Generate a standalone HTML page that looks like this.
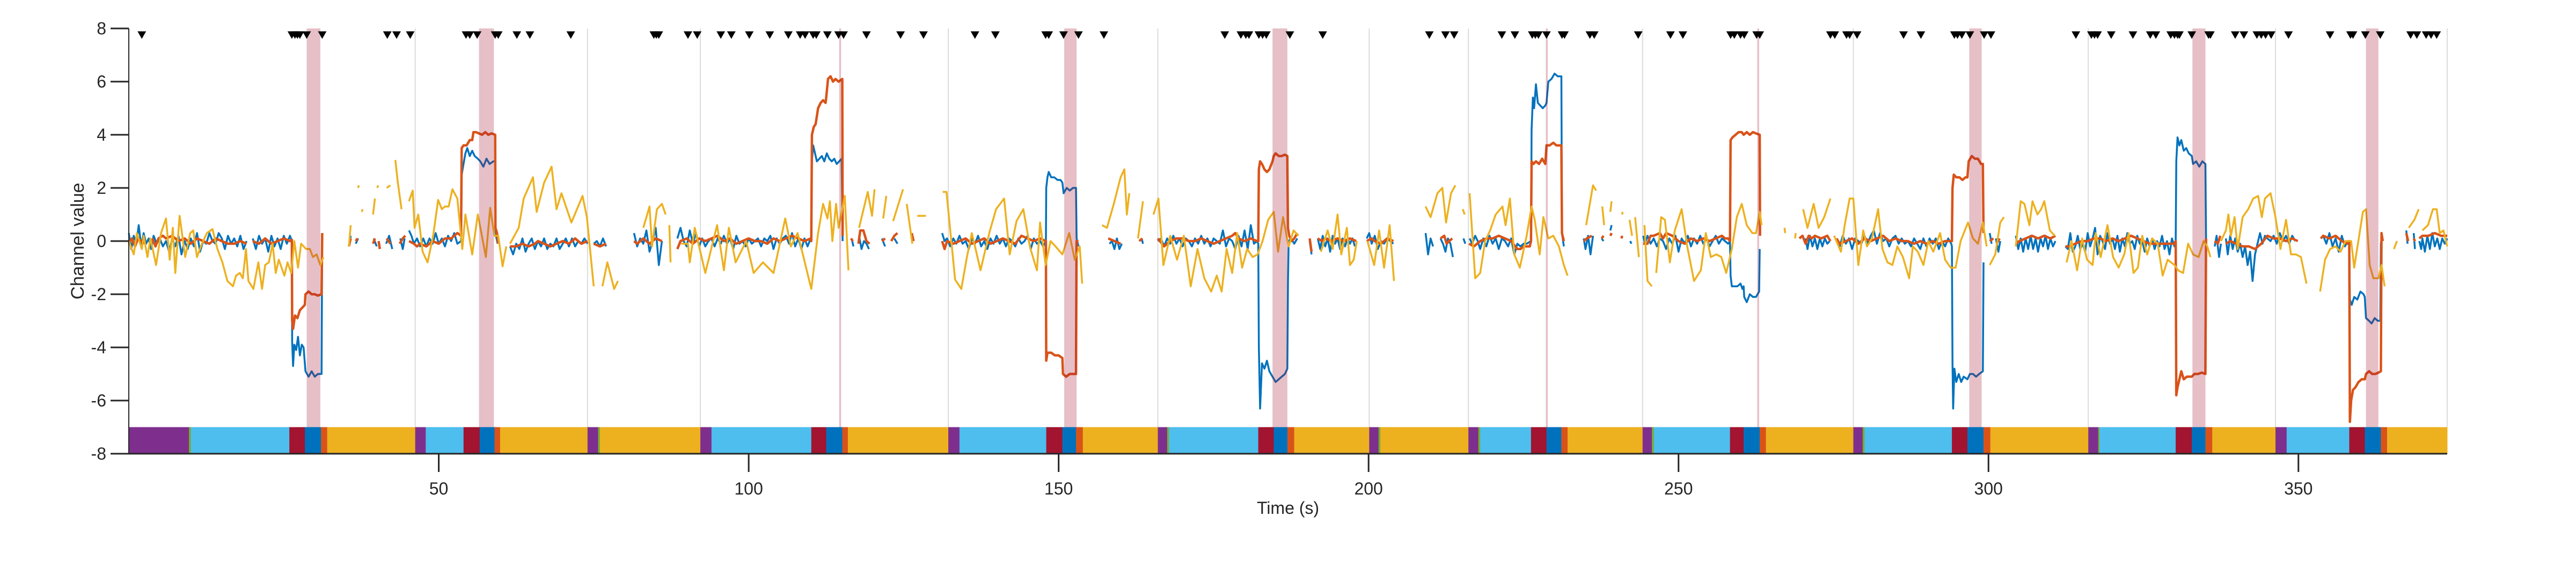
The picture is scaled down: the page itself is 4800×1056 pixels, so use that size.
<!DOCTYPE html>
<html><head><meta charset="utf-8"><style>
html,body{margin:0;padding:0;background:#fff;}
svg{display:block;font-family:"Liberation Sans",sans-serif;}
</style></head><body>
<svg id="chart" width="4800" height="1056" viewBox="0 0 4800 1056" xmlns="http://www.w3.org/2000/svg">
<g id="grid"></g>
<g id="series"></g>
<g id="shade"></g>
<g id="band"></g>
<g id="marks"></g>
<g id="axes"></g>
</svg>
<script>
// ---- data ----
const xTicks = [50,100,150,200,250,300,350];
const yTicks = [-8,-6,-4,-2,0,2,4,6,8];
// trial phase boundaries (s)
const purpleStart = [0,46.2,74,92.2,132.2,166,200.1,216.1,244.2,278.2,316.1,346.3];
const lightBlueStart = [10,47.9,null,94,134,167.8,null,218,246,280,317.9,348.1];
const redStart = [25.9,54,null,110.1,148,182.2,null,226.2,258.3,294.1,330.2,358.2];
const blueStart = [28.4,56.6,null,112.5,150.6,184.7,null,228.7,260.5,296.6,332.8,360.7];
const orangeStart = [31,59,null,115.1,152.8,186.9,null,231.1,263.1,299.2,335,363.3];
const yellowStart = [32,59.9,76,116,153.9,188,201.9,232.1,264.1,300.3,336.1,364.3];
const greenLen = [0.3,0,0.3,0,0,0.3,0.3,0.3,0.3,0.3,0.2,0];
const trialEnd = 374;
const shadeStart = [28.7,56.5,114.6,150.9,184.5,228.6,262.7,296.9,332.9,360.9];
const shadeEnd = [30.9,58.9,114.9,152.9,186.9,228.9,263.0,298.9,335,362.9];
const markerTimes = [2.1,26.3,26.8,27.2,27.6,28.7,31.2,41.7,43.2,45.4,54.4,55,56.2,59.1,59.6,62.6,64.7,71.3,84.7,85.1,85.5,90.2,91.7,95.5,97.2,100.1,103.4,106.4,108.3,109.1,110.4,110.9,112.7,114.5,115.3,119,124.5,128.2,136.5,139.8,147.9,148.4,150.8,153.2,157.3,176.8,179.4,180.2,180.7,182.3,182.9,183.5,187.3,192.6,209.8,212.4,213.8,221.5,223.6,226.4,226.9,227.4,228.7,231.2,231.6,235.7,236.4,243.5,248.7,250.7,258.4,259,260,260.6,262.6,263.1,274.5,275.2,277.1,277.6,278.8,286.3,289.1,294.5,295,295.7,297,299.3,300.4,314.1,316.6,317.1,317.6,319.8,323.3,326.1,327,329.4,330,330.5,330.8,332.8,335.5,335.8,339.8,341.2,343.3,344,344.7,345.6,348.4,355.1,358.4,358.8,360.8,363.2,368.1,369.1,370.6,371.4,372.3];

const blueData = [[0,0.3],[0.4,-0.3],[0.8,0.2],[1.2,-0.1],[1.6,0.6],[2,-0.2],[2.4,0.3],[2.8,-0.1],[3.2,0.1],[3.6,-0.3],[4,0.2],[4.5,-0.1],[5,0.1],[5.5,-0.2],[6,0],[6.5,-0.4],[7,0.1],[7.5,-0.2],[8,0.2],[8.5,-0.5],[9,0],[9.5,-0.3],[10,0.1],[10.5,-0.2],[11,0.3],[11.5,-0.4],[12,0],[12.5,-0.1],[13,0.3],[13.5,0],[14,-0.1],[14.5,0.3],[15,0.1],[15.5,-0.3],[16,0.2],[16.5,-0.1],[17,0.1],[17.5,-0.2],[18,0.2],[18.5,-0.3],[19,0],[19.5,null],[20,0.1],[20.5,-0.3],[21,0.2],[21.5,-0.1],[22,0.1],[22.5,-0.4],[23,0.2],[23.5,-0.2],[24,0.1],[24.5,-0.3],[25,0.2],[25.5,-0.1],[26,0.2],[26.3,0],[26.35,-3.8],[26.5,-4.7],[26.7,-3.9],[27,-4.1],[27.3,-3.6],[27.6,-4.3],[27.9,-3.9],[28.2,-4.0],[28.5,-4.9],[29,-5.1],[29.5,-4.9],[30,-5.1],[30.5,-5.0],[31.1,-5.0],[31.2,0.3],[31.3,null],
[35.6,-0.1],[35.8,0.2],[36,null],[36.6,-0.1],[37,0.1],[37.2,null],[39.5,0.1],[40,-0.2],[40.2,null],[41.5,-0.1],[42,0.2],[42.5,-0.3],[42.8,null],[43.8,0.1],[44.2,-0.3],[44.5,0.1],[44.8,null],[45.2,0.4],[45.6,0.2],[46,-0.1],[46.5,0.1],[47,-0.2],[47.5,0.1],[48,-0.2],[48.5,0.1],[49,-0.1],[49.5,0.3],[50,-0.1],[50.5,0.1],[51,-0.2],[51.5,0.2],[52,0],[52.5,0.3],[53,-0.1],[53.6,0],[53.7,2.5],[54,2.9],[54.3,3.3],[54.6,3.5],[55,3.2],[55.4,3.4],[55.8,3.2],[56.3,3.1],[56.7,3.0],[57.2,2.8],[57.7,3.1],[58.2,2.9],[58.8,3.0],[59.1,3.0],[59.15,0.3],[59.5,-0.1],[59.9,null],
[61.5,-0.2],[62,-0.5],[62.5,-0.1],[63,-0.3],[63.5,0.1],[64,-0.4],[64.5,-0.1],[65,0.1],[65.5,-0.3],[66,0],[66.5,-0.2],[67,0.1],[67.5,-0.3],[68,-0.1],[68.5,-0.2],[69,0.1],[69.5,-0.3],[70,-0.1],[70.5,0.1],[71,-0.2],[71.5,0.1],[72,-0.2],[72.5,0],[73,-0.1],[73.5,0.1],[74,-0.1],[74.3,null],[75,-0.1],[75.5,0],[76,-0.2],[76.5,0.1],[77,-0.2],[77.3,null],[79.5,0.1],[79.6,null],[81.5,0.3],[82,-0.2],[82.5,0.1],[83,-0.1],[83.5,0.4],[84,-0.4],[84.5,0],[85,0.5],[85.5,-0.9],[86,0],[86.4,null],[88.5,0.1],[89,0.5],[89.5,0],[90,-0.2],[90.5,0.4],[91,-0.1],[91.5,0.3],[92,-0.2],[92.5,0.1],[93,-0.2],[93.5,0],[94,0.1],[94.5,-0.2],[95,0.1],[95.5,-0.1],[96,0.2],[96.5,-0.1],[97,0.1],[97.5,-0.3],[98,0.2],[98.5,-0.1],[99,0],[99.5,-0.2],[100,0.1],[100.5,-0.1],[101,0],[101.5,0.1],[102,-0.2],[102.5,0.1],[103,0],[103.5,0.2],[104,-0.3],[104.5,0.1],[105,-0.1],[105.5,0.1],[106,0.2],[106.5,-0.1],[107,0.3],[107.5,-0.2],[108,0.1],[108.5,-0.3],[109,0.1],[109.5,-0.2],[110,0.1],[110.1,0.1],[110.2,3.0],[110.4,3.6],[110.7,3.3],[111,3.0],[111.4,3.1],[111.8,3.2],[112.2,3.0],[112.6,3.3],[113,3.1],[113.4,3.0],[113.8,3.1],[114.2,2.9],[114.6,3.0],[115,3.1],[115.15,0],[115.3,null],
[116.6,0.1],[116.9,-0.2],[117.1,null],[117.8,0.2],[118.2,-0.3],[118.6,0],[119,-0.1],[119.4,-0.3],[119.6,null],[121.5,0.1],[122,-0.2],[122.3,null],[123.5,0.1],[124,-0.1],[124.2,null],[125.4,0],[125.6,null],[126.5,0.2],[126.8,null],[131.2,0.3],[131.6,0],[132,0.1],[132.5,-0.2],[133,0.1],[133.5,-0.1],[134,0.2],[134.5,-0.1],[135,0],[135.5,-0.3],[136,0.1],[136.5,-0.1],[137,0.2],[137.5,-0.2],[138,0],[138.5,-0.3],[139,0.1],[139.5,-0.1],[140,0.2],[140.5,-0.1],[141,0.1],[141.5,-0.2],[142,0.1],[142.5,0],[143,-0.2],[143.5,0.1],[144,-0.1],[144.5,0],[145,0.2],[145.5,-0.3],[146,0.1],[146.5,-0.1],[147,0],[147.5,-0.2],[147.95,0],[148,2.0],[148.2,2.4],[148.4,2.6],[148.8,2.4],[149.3,2.4],[149.8,2.3],[150.3,2.3],[150.6,2.2],[150.8,1.8],[151.3,2.0],[151.8,1.9],[152.3,2.0],[152.8,2.0],[152.9,0.1],[153.2,-0.2],[153.4,null],
[157.2,0.1],[157.4,null],[158.2,-0.1],[158.6,0],[159,-0.3],[159.4,0.1],[159.8,-0.3],[160.2,-0.1],[160.5,null],[163.4,0.1],[163.6,-0.1],[163.8,null],[166,0],[166.5,0.1],[167,-0.2],[167.5,0.1],[168,-0.1],[168.5,0.2],[169,-0.1],[169.5,0.1],[170,-0.2],[170.5,0.1],[171,0],[171.5,-0.2],[172,0.1],[172.5,-0.1],[173,0.2],[173.5,-0.1],[174,0.1],[174.5,-0.2],[175,0.1],[175.5,0],[176,-0.1],[176.5,0.4],[177,-0.2],[177.5,0.1],[178,0],[178.5,-0.3],[179,0.2],[179.5,-0.2],[180,0.4],[180.5,-0.3],[181,0.6],[181.5,-0.1],[182,0],[182.2,-0.1],[182.3,-4.0],[182.5,-6.3],[182.8,-4.6],[183.2,-4.8],[183.6,-4.5],[184,-4.9],[184.5,-5.1],[185,-5.3],[185.5,-5.2],[186,-5.1],[186.5,-5.0],[186.9,-4.8],[187,-1.5],[187.1,0],[187.5,0.1],[188,-0.1],[188.5,0.1],[188.9,null],
[190.5,0],[190.8,-0.5],[191,null],[191.8,0.1],[192.2,-0.3],[192.6,0.2],[193,-0.2],[193.4,0.1],[193.8,-0.4],[194.2,0.2],[194.6,-0.1],[195,0.1],[195.4,-0.3],[195.8,0.1],[196.2,-0.2],[196.6,0.1],[197,-0.1],[197.4,0.1],[197.8,-0.2],[198.1,null],[199.7,0.1],[200.1,0.3],[200.5,-0.1],[201,0.2],[201.5,-0.3],[202,0],[202.5,-0.1],[203,0.1],[203.5,0],[204,-0.1],[204.2,null],[209.2,0.3],[209.6,-0.5],[210,0.1],[210.4,-0.2],[210.8,null],[211.6,0.1],[212,-0.1],[212.4,-0.4],[212.8,0.1],[213.2,-0.1],[213.6,-0.6],[214,null],[215.3,0.1],[215.6,-0.1],[215.8,null],[216.3,0.1],[216.7,-0.1],[217.2,0.2],[217.6,0],[218,-0.3],[218.5,0.1],[219,-0.2],[219.5,0.2],[220,-0.1],[220.5,0.1],[221,-0.3],[221.5,0.1],[222,0],[222.5,-0.2],[223,0.1],[223.5,-0.5],[224,-0.1],[224.5,-0.2],[225,-0.1],[225.5,-0.1],[226.2,0],[226.3,4.2],[226.5,5.4],[226.7,5.0],[227,5.9],[227.3,5.2],[227.7,5.1],[228.1,5.0],[228.5,5.1],[228.7,5.2],[229,6.0],[229.5,6.1],[230,6.3],[230.5,6.2],[231.1,6.2],[231.2,0.3],[231.5,-0.2],[231.8,null],
[234.7,0.1],[235,-0.3],[235.4,0.2],[235.8,-0.5],[236.2,0.2],[236.5,null],[237.6,0.1],[237.9,0],[238,null],[239,0.4],[239.2,0.6],[239.4,null],[242.2,0],[242.4,-0.1],[242.5,null],[243,0.1],[243.3,null],[244.3,0.2],[244.6,-0.1],[245,0.2],[245.5,-0.1],[246,0.1],[246.5,-0.2],[247,0.1],[247.5,0],[248,-0.3],[248.5,0.1],[249,-0.1],[249.5,0.2],[250,-0.4],[250.5,0.1],[251,-0.1],[251.5,0.2],[252,-0.2],[252.5,0.1],[253,-0.1],[253.5,0.2],[254,-0.1],[254.5,0.1],[255,-0.2],[255.5,0],[256,0.2],[256.5,-0.1],[257,0.1],[257.5,0],[258,-0.1],[258.3,0],[258.4,-1.3],[258.6,-1.7],[259,-1.7],[259.5,-1.7],[260,-1.6],[260.3,-1.8],[260.5,-1.7],[260.6,-2.1],[261,-2.3],[261.5,-2.0],[262,-2.1],[262.5,-2.1],[263,-1.9],[263.1,-0.3],[263.15,null],
[267.1,0.3],[267.2,null],[269.5,-0.1],[269.7,null],[270.5,0.1],[270.8,-0.3],[271.2,0.2],[271.6,-0.2],[272,0.1],[272.4,-0.3],[272.8,0.1],[273.2,-0.2],[273.6,0.1],[274,-0.1],[274.4,0],[274.8,null],[275.5,0.1],[276,-0.2],[276.5,0.2],[277,-0.1],[277.5,0.1],[278,-0.3],[278.5,0.1],[279,0],[279.5,-0.1],[280,0.2],[280.5,-0.1],[281,0.2],[281.5,0.4],[282,-0.1],[282.5,0.3],[283,0],[283.5,0.1],[284,-0.2],[284.5,0.1],[285,0.2],[285.5,-0.1],[286,0.1],[286.5,-0.1],[287,0],[287.5,-0.2],[288,0.1],[288.5,-0.1],[289,-0.3],[289.5,0.1],[290,-0.2],[290.5,0.1],[291,-0.1],[291.5,0.1],[292,-0.3],[292.5,0],[293,-0.2],[293.5,0.1],[294,-0.1],[294.1,-0.2],[294.2,-4.6],[294.3,-6.3],[294.5,-4.8],[294.8,-5.3],[295.2,-5.0],[295.6,-5.3],[296,-5.1],[296.6,-5.2],[297,-5.0],[297.5,-5.0],[298,-5.1],[298.5,-5.0],[299.1,-4.9],[299.2,-0.8],[299.3,null],
[300.2,0.3],[300.5,-0.1],[300.9,null],[301.2,0.1],[301.6,-0.4],[301.9,0],[302.1,null],[304.4,0.2],[304.8,-0.3],[305.2,0.1],[305.6,-0.4],[306,0.1],[306.4,-0.3],[306.8,0.2],[307.2,-0.3],[307.6,0.1],[308,-0.4],[308.4,0.1],[308.8,-0.2],[309.2,0.2],[309.6,-0.3],[310,0.1],[310.4,-0.2],[310.8,0],[311,null],[312.4,-0.2],[312.8,-0.3],[313.2,0.3],[313.6,-0.4],[314,-0.2],[314.4,0.2],[314.8,-0.3],[315.2,-0.1],[315.6,-0.4],[316,0.3],[316.4,-0.2],[316.8,0.1],[317.2,0.5],[317.6,-0.5],[318,0.2],[318.4,0],[318.8,-0.3],[319.2,0.3],[319.6,-0.1],[320,0.1],[320.4,-0.3],[320.8,0.2],[321.2,-0.4],[321.6,0.1],[322,-0.2],[322.4,0.3],[322.8,-0.1],[323.2,0],[323.6,-0.3],[324,0.2],[324.4,-0.1],[324.8,0],[325.2,-0.4],[325.6,0.1],[326,-0.2],[326.4,0.1],[326.8,-0.3],[327.2,0],[327.6,-0.2],[328,0.2],[328.4,-0.3],[328.8,0],[329.2,-0.5],[329.6,0.1],[330,-0.2],[330.2,0],[330.3,3.0],[330.5,3.9],[330.8,3.6],[331.1,3.8],[331.5,3.4],[331.9,3.5],[332.3,3.3],[332.8,3.2],[333,2.9],[333.5,3.0],[334,2.8],[334.5,3.0],[335,2.9],[335.1,0],[335.2,null],
[336.5,-0.2],[336.8,0.2],[337.2,-0.6],[337.5,-0.1],[337.9,null],[338.3,0.1],[338.6,-0.5],[339,0.2],[339.4,-0.3],[339.8,0.1],[340.2,-0.4],[340.6,-0.1],[341,-0.6],[341.4,-0.2],[341.8,-0.9],[342.2,-0.4],[342.6,-1.5],[343,-0.5],[343.4,-0.1],[343.8,0.3],[344.2,-0.1],[344.6,0.2],[345,0.1],[345.5,0],[346,0.2],[346.5,-0.1],[347,0.3],[347.5,0],[348,0.2],[348.5,-0.1],[349,0.2],[349.5,0],[349.9,null],[353.6,0.1],[354,0.2],[354.5,-0.1],[355,0.3],[355.5,-0.2],[356,0.1],[356.5,-0.4],[357,0.2],[357.5,-0.2],[358,0],[358.2,-0.1],[358.3,-2.2],[358.6,-2.4],[359,-2.1],[359.5,-2.2],[360,-1.9],[360.5,-2.0],[360.7,-2.1],[360.9,-2.9],[361.4,-3.0],[361.8,-3.1],[362.3,-2.9],[362.8,-3.0],[363.2,-3.0],[363.3,-0.1],[363.5,0.2],[363.7,null],[364.6,0.3],[364.8,null],[367.4,0.4],[367.6,-0.1],[367.8,null],[368.6,0.3],[368.8,-0.3],[369,null],[369.5,0],[369.8,-0.3],[370,0.1],[370.4,-0.4],[370.8,0.2],[371.2,-0.3],[371.6,0.3],[372,-0.2],[372.4,0.1],[372.8,-0.3],[373.2,0.1],[373.6,-0.1],[374,0.1]];

const redData = [[0,-0.1],[0.5,0.1],[1,-0.2],[1.5,0.1],[2,0],[2.5,-0.1],[3,null],[3.8,0.1],[4.3,-0.2],[4.8,0.1],[5.5,0.2],[6,0.1],[7,0.2],[8,0],[9,0.1],[10,-0.1],[11,0.1],[12,0],[13,-0.1],[14,0.1],[15,0],[16,-0.1],[17,-0.1],[18,0],[19,-0.1],[19.5,null],[20,0],[21,-0.1],[22,0.1],[23,-0.1],[24,0],[25,0.1],[26,0],[26.3,0.05],[26.35,-3.0],[26.5,-3.3],[26.8,-2.8],[27.2,-2.9],[27.6,-2.6],[28,-2.5],[28.4,-2.4],[28.5,-2.0],[29,-1.9],[29.5,-2.0],[30,-2.0],[30.5,-2.05],[31.1,-2.0],[31.2,0.3],[31.3,null],
[35.5,-0.2],[35.8,0.1],[36,null],[36.6,0],[36.9,0.1],[37,null],[39.4,-0.1],[39.7,0.1],[39.9,null],[40.3,0],[40.5,-0.3],[40.7,null],[41.6,0.1],[42.2,-0.1],[42.5,null],[43.7,-0.1],[44.2,0.1],[44.6,0.2],[44.8,null],[45.2,0],[46,-0.1],[46.5,-0.2],[47,-0.1],[48,-0.2],[49,0],[50,-0.1],[51,0.1],[52,0.1],[53,0.3],[53.6,0.2],[53.7,3.5],[54,3.6],[54.5,3.6],[55,3.8],[55.4,3.8],[55.6,4.1],[56,4.1],[56.5,4.05],[57,4.0],[57.5,4.1],[58,4.0],[58.5,4.05],[59.1,4.0],[59.15,0.5],[59.4,0.3],[59.6,-0.1],[59.9,null],
[61.5,-0.2],[62.5,-0.2],[63.5,-0.1],[64.5,-0.2],[65.5,-0.1],[66,0.0],[67,-0.1],[68,-0.2],[69,-0.1],[70,0],[71,-0.1],[72,0.1],[73,-0.1],[74,0],[74.3,null],[75,-0.1],[76,-0.2],[77,-0.1],[77.3,null],[79.5,-0.2],[79.7,null],[81.5,0],[82,-0.1],[83,0.1],[84,-0.1],[85,0.1],[86,0],[86.4,null],[88.5,-0.3],[89,0],[90,0.1],[91,-0.1],[92,0.1],[93,0],[94,0.1],[95,0.2],[96,0],[97,0.1],[98,-0.1],[99,0],[100,0.1],[101,0],[102,0],[103,-0.1],[104,0.1],[105,0],[106,0.1],[107,0.2],[108,0.1],[109,0],[110,0.1],[110.1,0],[110.2,4.0],[110.5,4.3],[110.8,4.4],[111.2,5.0],[111.6,5.2],[112,5.3],[112.4,5.2],[112.5,5.4],[112.8,6.1],[113.2,6.2],[113.6,6.0],[114,6.1],[114.5,6.0],[115.1,6.1],[115.15,0.2],[115.3,null],
[116.5,0.1],[116.8,0],[117,null],[117.7,-0.1],[118,0.4],[118.5,0.4],[119,0],[119.5,-0.1],[119.7,null],[121.5,0],[122,0.1],[122.3,null],[123,0],[123.5,0.2],[124,0.3],[124.3,null],[125.4,0.2],[125.6,null],[126.3,0.3],[126.6,0],[126.9,null],[131.2,0],[131.6,-0.3],[132,0],[133,-0.1],[134,0],[135,0.1],[136,-0.1],[137,0],[138,0.1],[139,-0.1],[140,0],[141,0.1],[142,0],[143,-0.1],[144,0.2],[145,0.1],[146,0],[147,0.1],[147.95,0],[148,-4.5],[148.2,-4.2],[148.8,-4.2],[149.4,-4.3],[150,-4.3],[150.6,-4.4],[150.7,-5.0],[151.2,-5.1],[151.8,-5.0],[152.3,-5.0],[152.8,-5.0],[152.9,0],[153.2,0],[153.4,null],
[156.3,-0.2],[156.5,null],[157,0],[157.3,null],[158,0.1],[159,0],[160,-0.1],[160.5,null],[163,0],[163.5,0.1],[163.8,null],[166,0.1],[167,-0.2],[168,0],[169,0.1],[170,0.1],[171,0],[172,0],[173,0.1],[174,0],[175,-0.1],[176,0],[177,0.1],[178,0.2],[178.5,0.3],[179,0.1],[180,0],[181,0.1],[182,0],[182.2,0],[182.3,2.7],[182.5,3.0],[182.8,2.9],[183.2,2.7],[183.6,2.6],[184,2.7],[184.5,3.0],[184.7,3.2],[185,3.3],[185.5,3.2],[186,3.2],[186.5,3.25],[186.9,3.2],[187,0.5],[187.2,0.2],[187.6,0],[188,0.1],[188.5,0.3],[188.9,null],
[190.5,0.1],[190.8,-0.4],[191,null],[191.8,0.1],[192.5,0],[193,0.1],[194,0],[195,0.1],[196,0],[197,0.1],[198,0],[198.1,null],[199.7,0],[200.5,0.1],[201,0],[202,-0.1],[203,0.1],[204,0],[204.2,null],[209.8,-0.3],[210,null],[211.6,0.1],[212.2,0.2],[212.6,-0.1],[213,0],[213.5,0.1],[214,null],[215.4,0.3],[215.7,null],[216.2,-0.1],[217,-0.2],[218,0],[219,0.1],[220,0.1],[221,0.2],[222,0.1],[223,0],[224,-0.3],[224.5,-0.3],[225,-0.2],[226,-0.2],[226.2,0],[226.3,3.0],[226.6,2.9],[227,3.0],[227.5,2.9],[228,3.1],[228.5,2.9],[228.7,3.6],[229.2,3.6],[229.8,3.7],[230.3,3.6],[231.1,3.6],[231.2,0.3],[231.5,0],[231.8,null],
[234.7,0],[235.2,0.1],[236,0.2],[236.5,null],[237.6,0.1],[237.9,0.2],[238,null],[239,0.2],[239.2,0.3],[239.4,null],[240.8,0.1],[240.9,0.2],[241,null],[242.2,-0.2],[242.5,null],[243,0.1],[243.3,null],[244.3,-0.1],[245,-0.1],[245.5,0.2],[246,0.2],[247,0.3],[247.5,0.1],[248,0.3],[249,0.2],[250,0],[251,-0.1],[252,0.1],[253,0],[254,0.1],[255,0],[256,0.1],[257,0.2],[257.5,0.1],[258,0.1],[258.3,0],[258.4,3.8],[258.7,3.9],[259.2,4.0],[259.7,4.1],[260.2,4.1],[260.5,4.0],[261,4.1],[261.5,4.0],[262,4.1],[262.5,4.05],[263.1,4.0],[263.15,0.2],[263.2,null],
[267.1,-0.2],[267.2,null],[268.7,0.2],[268.9,null],[269.5,0.1],[270,0.2],[270.5,-0.1],[271,0.2],[271.5,0.1],[272,0.2],[273,0.1],[274,0.2],[274.5,0],[274.8,null],[275.5,0.1],[276,-0.1],[277,0],[278,0.1],[279,-0.1],[280,0.1],[281,0],[282,0.1],[283,0.2],[284,0],[285,0.1],[286,0],[287,0],[288,-0.1],[289,0],[290,-0.1],[291,0],[292,-0.1],[293,0],[294,0],[294.1,0],[294.2,2.0],[294.4,2.5],[294.8,2.4],[295.3,2.4],[295.8,2.3],[296.3,2.4],[296.6,2.4],[296.8,3.0],[297.3,3.2],[297.8,3.1],[298.3,3.1],[298.8,2.9],[299.1,2.9],[299.2,0.3],[299.3,null],
[300.2,0],[300.8,0.1],[300.9,null],[301.3,-0.1],[301.8,0.1],[302.1,null],[304.4,-0.1],[305,0],[306,0.1],[307,0.2],[308,0.1],[309,0.2],[310,0.1],[310.8,0.2],[311,null],[312.4,-0.2],[313,-0.2],[314,-0.1],[315,0],[316,0],[317,0.1],[318,0.1],[319,0],[320,0.1],[321,0],[322,0.1],[323,0.2],[324,0.1],[325,0],[326,-0.1],[327,-0.1],[328,-0.1],[329,-0.1],[330,-0.1],[330.2,0],[330.3,-5.8],[330.5,-5.5],[330.8,-5.2],[331.1,-4.9],[331.5,-5.2],[332,-5.1],[332.8,-5.1],[333.2,-5.0],[333.8,-5.0],[334.4,-4.95],[335,-5.0],[335.1,0.1],[335.2,null],
[336.5,0],[337,-0.1],[337.4,0.2],[337.9,null],[338.3,-0.1],[339,0],[340,-0.1],[341,-0.2],[342,-0.2],[343,-0.3],[344,-0.1],[345,0.2],[346,0.1],[347,0.1],[348,0],[349,0.1],[349.9,0],[350,null],[353.6,0.1],[354,0.2],[355,0.1],[356,0.2],[357,0],[358,-0.1],[358.2,0],[358.3,-6.8],[358.5,-6.0],[358.8,-5.6],[359.2,-5.5],[359.7,-5.3],[360.2,-5.2],[360.7,-5.2],[360.9,-5.0],[361.4,-4.9],[361.9,-5.0],[362.4,-5.0],[362.9,-4.95],[363.3,-4.9],[363.4,0.3],[363.6,0],[363.7,null],[364.6,0.2],[364.8,null],[366.7,0],[366.9,null],[367.4,0.3],[367.7,0],[367.9,null],[368.6,0.1],[368.8,0],[369,null],[369.5,0.1],[370,0.2],[371,0.2],[372,0.3],[373,0.2],[374,0.2]];

const yellowData = [[0,0],[0.8,-0.5],[1.3,0.3],[2.1,-0.3],[2.4,0.2],[3,-0.6],[3.5,0.1],[4.4,-0.9],[5.2,0.3],[6,0.85],[6.6,-0.7],[7.1,0.5],[7.5,-1.2],[8.2,0.95],[9.1,-0.6],[9.9,0.3],[10.4,0.4],[11,-0.6],[11.8,-0.1],[12.6,0.3],[13.5,0.45],[14.3,-0.3],[15.1,-0.8],[15.9,-1.5],[16.8,-1.7],[17.3,-1.3],[17.9,-1.2],[18.4,-1.4],[18.9,-0.3],[19.3,-1.5],[20.1,-1.8],[20.9,-0.8],[21.5,-1.8],[22,-0.9],[22.6,-0.8],[23.2,-0.1],[23.7,-1.2],[24.2,-0.7],[25.1,-1.3],[25.6,-0.8],[26.2,-1.2],[26.7,0],[27.3,-1],[27.8,-0.1],[28.6,-0.3],[29.2,-0.3],[29.7,-0.6],[30.3,-0.5],[30.9,-0.9],[31.4,-0.6],[31.5,null],
[35.5,-0.2],[35.8,0.6],[35.9,null],[37,2.0],[37.1,2.1],[37.2,null],[37.6,1.1],[37.7,1.2],[37.8,null],[39.4,1.0],[39.7,1.6],[39.8,null],[40.1,2.0],[40.2,2.1],[40.3,null],[41.6,2.0],[42.2,2.1],[42.3,null],[43,3.05],[43.4,2.2],[44,1.2],[44.1,null],[45.2,1.5],[45.8,1.9],[46.1,0.5],[46.7,1.0],[47.4,-0.4],[48.2,-0.8],[49.1,0.2],[49.9,1.55],[50.5,1.2],[51,1.3],[51.6,1.3],[52.2,1.95],[53,1.6],[53.8,-0.3],[54.3,1.0],[55.4,-0.5],[56.3,1.0],[56.8,0.4],[57.6,-0.6],[58.3,1.25],[59,0.2],[59.6,0.2],[60.3,-0.95],[60.9,-0.2],[61,null],
[61.5,-0.1],[62.9,0.5],[63.7,1.6],[65.2,2.4],[65.8,1.1],[67,2.2],[68.2,2.8],[69,1.2],[69.8,1.8],[71.4,0.7],[73.2,1.7],[73.9,0.9],[75,-1.7],[75.1,null],[76.4,-1.7],[77.2,-0.8],[78.3,-1.8],[78.9,-1.5],[79,null],[83,0.5],[84,1.3],[84.4,-0.2],[85.2,1.2],[86,1.4],[86.6,1.0],[86.7,null],[87.2,0.6],[87.4,-0.8],[87.5,null],[89.1,-0.1],[90.2,-0.1],[90.5,-0.8],[91.3,0.5],[93,-1.2],[94.9,0.6],[96,-1.1],[96.8,0.5],[97.9,-0.8],[99.6,0],[100.8,-1.2],[102.3,-0.8],[104,-1.2],[105.9,0.85],[106.8,-0.2],[107.9,0.3],[110.1,-1.8],[111.2,0.3],[112,1.4],[112.7,0.85],[113.1,1.5],[113.5,0],[114.1,1.4],[114.5,0.5],[115.5,1.7],[116.1,-1.1],[116.2,null],
[117.8,0.5],[119.2,1.85],[119.9,0.95],[120.3,1.95],[120.4,null],[121.7,0.85],[122.2,1.7],[122.3,null],[123.3,0.75],[124.9,1.95],[125,null],[125.5,1.4],[126.4,-0.1],[126.5,null],[127.2,0.95],[128.6,0.95],[128.7,null],[131.3,1.85],[131.9,1.85],[133.3,-1.45],[134.3,-1.8],[135.2,-0.6],[136,0.3],[137.4,-1.1],[138.8,0.3],[139.9,1.2],[141.2,1.6],[142.1,-0.5],[143.2,0.75],[144.3,1.2],[145.4,-0.25],[146.5,-1.1],[147,0.7],[147.9,-0.9],[148.7,0],[149.5,-0.2],[150.6,-0.5],[151.7,0.3],[152.6,-0.7],[153.4,-0.2],[153.8,-1.6],[153.9,null],
[157,0.6],[157.8,0.5],[158.9,1.4],[160,2.4],[160.6,2.7],[161,1.0],[161.4,1.8],[161.5,null],[162.8,0.1],[163.6,1.5],[163.7,null],[164.1,1.6],[164.2,null],[165.3,1.0],[166.1,1.6],[166.9,-0.9],[168,0.2],[169.1,-0.7],[170.2,0.2],[171.3,-1.7],[172.4,-0.3],[173.5,-1.4],[174.6,-1.9],[175.5,-1.3],[176.3,-1.9],[177.1,-0.3],[178,-1.2],[178.8,0.3],[179.6,-1.0],[180.4,-0.3],[181.3,-0.6],[182.1,-0.5],[182.9,0],[183.8,0.8],[184.7,1.1],[185.4,-0.4],[186.2,0.9],[187.1,-0.2],[187.9,0.4],[188.7,0.2],[188.8,null],[190.9,-0.6],[191,null],[192.3,-0.4],[193.4,0.4],[194.2,-0.3],[195,1.0],[195.6,-0.5],[196.5,0.5],[197,-0.9],[197.6,-0.7],[198.1,0],[198.2,null],
[199.8,0],[200.9,-0.9],[201.7,0.4],[202.5,-1.0],[203.4,0.6],[204.1,-1.5],[204.2,null],[209.2,1.3],[210,0.9],[211.1,1.8],[211.9,2.0],[212.5,0.7],[213.3,1.8],[214,2.1],[214.1,null],[215.2,1.2],[215.5,1.0],[215.6,null],[216.3,1.8],[217.2,-1.4],[218,-1.2],[218.8,0],[219.6,0.4],[220.5,1.0],[221.6,1.3],[222.1,0.6],[222.8,1.6],[223.5,-0.5],[224.4,-1.0],[225.5,0.2],[226.3,1.3],[226.8,0.8],[227.6,-0.5],[228.2,0.9],[229,0.1],[229.8,0.2],[230.7,-0.2],[231.5,-0.9],[232.1,-1.3],[232.2,null],
[235.1,0.6],[236.2,2.1],[236.7,1.9],[236.8,null],[237.7,1.3],[238,0.6],[238.1,null],[239,1.1],[239.2,1.5],[239.3,null],[240.9,1.0],[241,1.1],[241.1,null],[242.1,0.8],[242.5,0.2],[242.6,null],[243,0.9],[243.6,-0.6],[243.7,null],[244.5,0.6],[245,-1.5],[245.7,-1.7],[245.8,null],[246.4,-1.2],[247.2,0.9],[247.8,0.8],[248.6,-0.8],[249.4,0.4],[250.5,1.2],[251.4,-0.2],[252.5,-1.5],[253.6,-1.1],[254.4,0.3],[255.2,-0.6],[256.1,-0.5],[256.9,-0.6],[257.7,-1.2],[258.6,-0.3],[259.4,0.9],[260.2,1.4],[261,0.6],[261.9,0.3],[262.5,0.3],[263.1,1.1],[263.4,0.6],[263.5,null],
[267.1,0.5],[267.2,0.3],[267.3,null],[268.8,0.1],[268.9,0.3],[269,null],[270.1,1.2],[270.8,0.5],[271.8,1.4],[272.6,0.5],[273.5,0.9],[274.5,1.6],[274.6,null],[275.1,0.2],[276.2,-0.4],[276.8,0.6],[277.6,1.6],[278.2,1.6],[279,-0.9],[279.8,0.4],[280.4,-0.2],[281.2,0.1],[282.2,1.2],[282.9,-0.3],[283.7,-0.8],[284.5,-0.9],[285.3,-0.2],[286.2,-0.6],[287.2,-1.4],[287.8,-0.2],[288.6,-0.4],[289.5,-0.9],[290.3,0],[291.1,-0.4],[292.2,0.3],[293,-0.7],[293.9,-1.0],[294.7,-1.0],[295.5,0],[296.7,0.7],[297.5,0.1],[298.3,-0.1],[299.1,0.7],[299.7,-0.2],[299.8,null],
[300.2,-0.9],[301.1,-0.5],[301.9,0.7],[302.5,0.9],[302.6,null],[304.4,-0.2],[305.2,1.5],[305.8,1.4],[306.6,0.6],[307.1,1.5],[307.9,1.0],[308.5,1.2],[309,1.5],[309.9,0.4],[310.7,0.2],[310.8,null],[312.6,-0.8],[313.4,0],[314.3,-1.1],[315.1,0.1],[315.9,-0.7],[316.8,-0.9],[317.3,0.3],[318.1,-0.6],[319.2,0.6],[320.1,-0.6],[321,-1.0],[321.9,-0.5],[322.6,0.3],[323.4,-1.2],[324.1,-1.0],[324.8,0.2],[325.6,-0.5],[326.4,0.1],[327.3,-0.1],[328.1,-1.3],[328.9,-0.7],[330,-0.9],[330.6,-1.1],[331.4,-1.2],[332.2,-0.1],[333,-0.5],[333.9,-0.6],[334.7,0],[335.3,-0.2],[335.8,-0.6],[335.9,null],
[337.5,0],[338.3,0.4],[338.7,1.0],[339.1,0.2],[339.7,0.9],[340.2,-0.3],[341,0.9],[341.9,1.2],[342.7,1.6],[343.5,1.7],[344.1,0.9],[344.6,1.6],[345.5,1.8],[346.3,0.9],[347.1,-0.3],[348,0.8],[348.8,-0.5],[349.6,-0.5],[350.4,-0.6],[351.3,-1.6],[351.4,null],[353.5,-1.9],[354.3,-0.7],[355.1,-0.3],[356,-0.2],[356.8,-0.4],[357.6,0],[358.5,0],[359,-1.0],[359.8,0.2],[360.4,1.1],[360.9,1.2],[361.5,-0.9],[362.1,-1.4],[362.9,-1.4],[363.4,-0.9],[363.9,-1.7],[364,null],[365.4,-0.3],[365.9,0],[366,null],[367.8,0.5],[368.7,0.8],[369.4,1.2],[369.5,null],[370,0.4],[370.9,0.6],[371.7,1.2],[372.3,1.2],[372.8,0.3],[373.4,0.4],[374,-0.2]];

// ---- scales ----
const X0=240, X1=4560, T0=0, T1=374;
const YT=53, YB=845, V0=-8, V1=8;
function xs(t){return X0+(t-T0)/(T1-T0)*(X1-X0);}
function ys(v){return YB-(v-V0)/(V1-V0)*(YB-YT);}
const NS='http://www.w3.org/2000/svg';
function mk(tag, attrs, parent){const e=document.createElementNS(NS,tag);for(const k in attrs)e.setAttribute(k,attrs[k]);parent.appendChild(e);return e;}

// gridlines at trial starts
const grid=document.getElementById('grid');
purpleStart.concat([trialEnd]).forEach((t,i)=>{
  if(t<=0) return;
  const l=mk('line',{x1:xs(t),x2:xs(t),y1:YT,y2:ys(-7),stroke:'#dcdcdc','stroke-width':2},grid);
  
  
});

// series
function pathFrom(data){
  let d='',pen=false;
  data.forEach(p=>{
    if(p[1]===null){pen=false;return;}
    d+=(pen?'L':'M')+xs(p[0]).toFixed(1)+' '+ys(p[1]).toFixed(1);
    pen=true;
  });
  return d;
}
const series=document.getElementById('series');
const pb=mk('path',{d:pathFrom(blueData),fill:'none',stroke:'#0072BD','stroke-width':3.5,'stroke-linejoin':'round'},series);


const pr=mk('path',{d:pathFrom(redData),fill:'none',stroke:'#D95319','stroke-width':4.5,'stroke-linejoin':'round'},series);


const py=mk('path',{d:pathFrom(yellowData),fill:'none',stroke:'#EDB120','stroke-width':3.5,'stroke-linejoin':'round'},series);



// shading
const shade=document.getElementById('shade');
shadeStart.forEach((s,i)=>{
  const r=mk('rect',{x:xs(s),y:YT,width:Math.max(3,xs(shadeEnd[i])-xs(s)),height:ys(-7)-YT,fill:'rgba(162,20,47,0.27)'},shade);
  
  
});

// phase band
const band=document.getElementById('band');
const bTop=ys(-7), bH=YB-ys(-7);
function seg(a,b,col,name){
  if(a===null||b===null||b<=a) return;
  const r=mk('rect',{x:xs(a),y:bTop,width:xs(b)-xs(a)+0.5,height:bH,fill:col},band);
  
  
}
purpleStart.forEach((p,i)=>{
  const end = i+1<purpleStart.length?purpleStart[i+1]:trialEnd;
  const afterP = lightBlueStart[i]!==null?lightBlueStart[i]:yellowStart[i];
  seg(p,afterP,'#7E2F8E','phase-purple');
  if(greenLen[i]>0) seg(afterP-greenLen[i],afterP,'#77AC30','phase-green');
  if(lightBlueStart[i]!==null){
    seg(lightBlueStart[i],redStart[i],'#4DBEEE','phase-lightblue');
    seg(redStart[i],blueStart[i],'#A2142F','phase-darkred');
    seg(blueStart[i],orangeStart[i],'#0072BD','phase-blue');
    seg(orangeStart[i],yellowStart[i],'#D95319','phase-orange');
  }
  seg(yellowStart[i],end,'#EDB120','phase-yellow');
});

// markers
const marks=document.getElementById('marks');
markerTimes.forEach(t=>{
  const x=xs(t), y=ys(7.75);
  const m=mk('polygon',{points:`${x-8},${y-7} ${x+8},${y-7} ${x},${y+7}`,fill:'#000'},marks);
  
  
});

// axes
const axes=document.getElementById('axes');
const ax=mk('line',{x1:X0,x2:X1,y1:YB,y2:YB,stroke:'#262626','stroke-width':3},axes);


const ay=mk('line',{x1:X0,x2:X0,y1:YT,y2:YB,stroke:'#262626','stroke-width':2},axes);


xTicks.forEach(t=>{
  const l=mk('line',{x1:xs(t),x2:xs(t),y1:YB,y2:YB+34,stroke:'#262626','stroke-width':3},axes);
  
  
  const tx=mk('text',{x:xs(t),y:YB+76,'text-anchor':'middle','font-size':32,fill:'#262626'},axes);
  tx.textContent=String(t);
  
  
});
yTicks.forEach(v=>{
  const l=mk('line',{x1:X0-34,x2:X0,y1:ys(v),y2:ys(v),stroke:'#262626','stroke-width':3},axes);
  
  
  const tx=mk('text',{x:X0-42,y:ys(v)+11,'text-anchor':'end','font-size':32,fill:'#262626'},axes);
  tx.textContent=String(v);
  
  
});
const xt=mk('text',{x:(X0+X1)/2,y:957,'text-anchor':'middle','font-size':32,fill:'#262626'},axes);
xt.textContent='Time (s)';


const yt=mk('text',{x:0,y:0,'text-anchor':'middle','font-size':34,fill:'#262626',transform:`translate(156,449) rotate(-90)`},axes);
yt.textContent='Channel value';


</script>
</body></html>
